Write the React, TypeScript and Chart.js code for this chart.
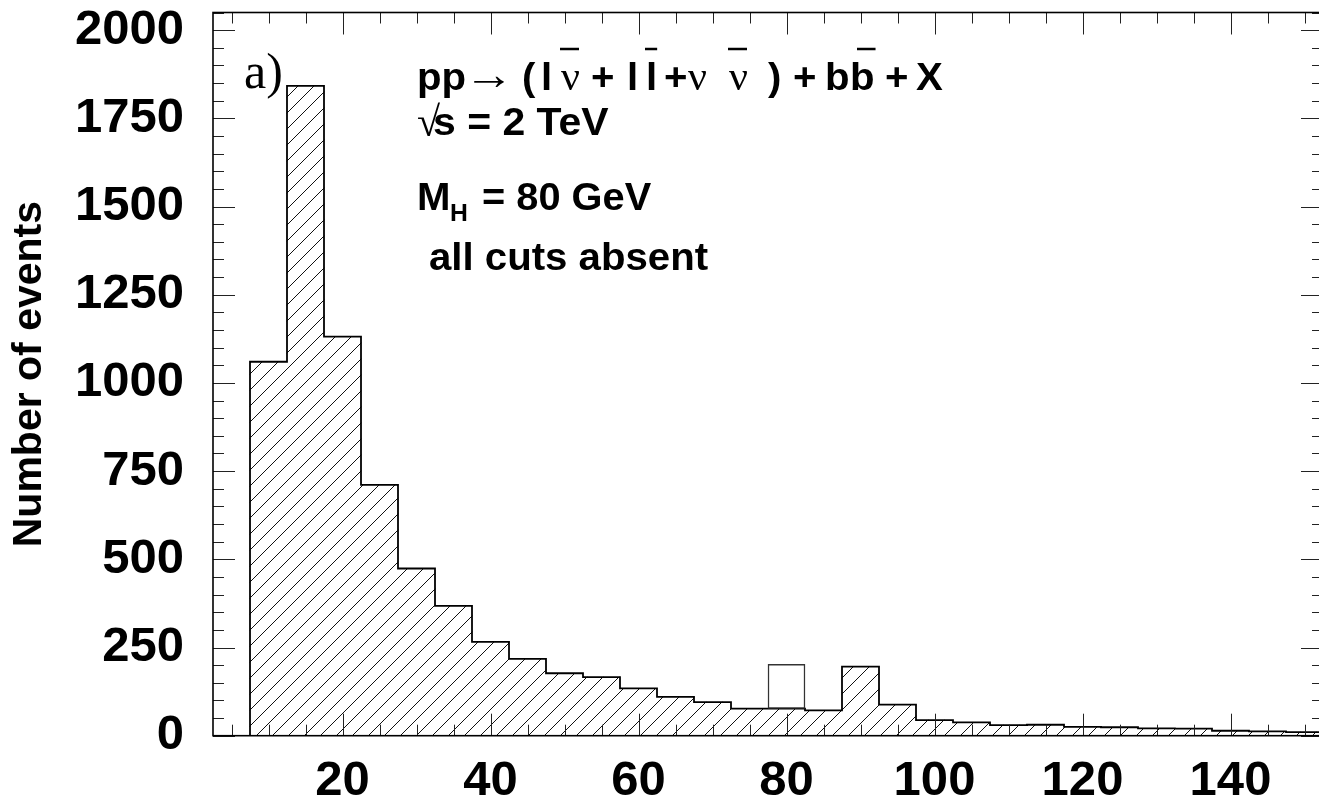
import React, { useEffect, useRef } from "react";
import { Chart, registerables } from "chart.js";

Chart.register(...registerables);

// ---- data ----
const binCenters = [10, 15, 20, 25, 30, 35, 40, 45, 50, 55, 60, 65, 70, 75, 80, 85, 90, 95, 100, 105, 110, 115, 120, 125, 130, 135, 140, 145, 150];
const binWidth = 5;
const background = [1060, 1842, 1131, 711, 474, 368, 266, 218, 177, 166, 134, 110, 95, 77, 77, 72, 196, 88, 44, 38, 30, 31, 25, 24, 21, 20, 14, 12, 10];
const signalBins = [80];
const signalValues = [125];
const xTickValues = [20, 40, 60, 80, 100, 120, 140];
const yTickValues = [0, 250, 500, 750, 1000, 1250, 1500, 1750, 2000];
const xMin = 2.5;
const xMax = 152.5;
const yMin = 0;
const yMax = 2050;
const xMinorStep = 5;
const xMajorStep = 20;
const yMinorStep = 50;
const yMajorStep = 250;

const SANS = '"Liberation Sans", Arial, Helvetica, sans-serif';
const SERIF = '"Liberation Serif", "Times New Roman", "DejaVu Serif", serif';

function makeHatch(): CanvasPattern | string {
  const s = 16;
  const c = document.createElement("canvas");
  c.width = s;
  c.height = s;
  const g = c.getContext("2d");
  if (!g) return "#fff";
  g.fillStyle = "#fff";
  g.fillRect(0, 0, s, s);
  g.strokeStyle = "#111";
  g.lineWidth = 1;
  g.beginPath();
  for (const k of [0, 1, 2]) {
    const d = k * s;
    g.moveTo(-2, d + 2);
    g.lineTo(d + 2, -2);
  }
  g.stroke();
  return g.createPattern(c, "repeat") || "#fff";
}

const framePlugin = {
  id: "frameAndText",
  afterDatasetsDraw(chart: any) {
    const { ctx, chartArea: a, scales } = chart;
    const xs = scales.x;
    const ys = scales.y;
    ctx.save();
    const line = (x1: number, y1: number, x2: number, y2: number) => {
      ctx.beginPath();
      ctx.moveTo(x1, y1);
      ctx.lineTo(x2, y2);
      ctx.stroke();
    };
    // inward ticks on all four sides
    ctx.strokeStyle = "#222";
    ctx.lineWidth = 1;
    for (let v = xMinorStep; v <= xMax; v += xMinorStep) {
      const px = Math.round(xs.getPixelForValue(v)) + 0.5;
      const len = v % xMajorStep === 0 ? 22 : 11;
      line(px, a.bottom, px, a.bottom - len);
      line(px, a.top, px, a.top + len);
    }
    for (let v = yMin; v <= yMax; v += yMinorStep) {
      const py = Math.round(ys.getPixelForValue(v)) + 0.5;
      const len = v % yMajorStep === 0 ? 22 : 11;
      line(a.left, py, a.left + len, py);
      line(a.right, py, a.right - len, py);
    }
    // frame
    ctx.strokeStyle = "#000";
    ctx.lineWidth = 1.6;
    ctx.strokeRect(a.left, a.top, a.right - a.left, a.bottom - a.top);

    // annotations
    ctx.fillStyle = "#000";
    ctx.textAlign = "left";
    ctx.textBaseline = "alphabetic";
    const SX = 1.03;
    const B = `bold 39px ${SANS}`;
    const S = `42px ${SERIF}`;
    const put = (t: string, x: number, y: number, font: string, sx: number = SX) => {
      ctx.font = font;
      ctx.save();
      ctx.translate(x, y);
      ctx.scale(sx, 1);
      ctx.fillText(t, 0, 0);
      ctx.restore();
      return ctx.measureText(t).width * sx;
    };
    const bar = (x: number, w: number, y: number) => {
      ctx.save();
      ctx.lineWidth = 2.5;
      ctx.strokeStyle = "#000";
      line(x, y, x + w, y);
      ctx.restore();
    };

    // a)
    put("a)", 244, 88, `50px ${SERIF}`, 1);

    // line 1
    const y1 = 90;
    const barY = 49;
    put("pp", 417, y1, B);
    ctx.font = `44px ${SERIF}`;
    const aw = ctx.measureText("\u2192").width;
    put("\u2192", 464, y1 - 1, `44px ${SERIF}`, 50 / aw);
    put("(", 522, y1, B);
    put("l", 541, y1, B);
    let w = put("\u03bd", 561, y1, S, 1);
    bar(560, w, barY);
    put("+", 591, y1, B);
    put("l", 627, y1, B);
    w = put("l", 646, y1, B);
    bar(645, w + 1, barY);
    put("+", 664, y1, B);
    put("\u03bd", 688, y1, S, 1);
    w = put("\u03bd", 729, y1, S, 1);
    bar(728, w, barY);
    put(")", 768, y1, B);
    put("+", 793, y1, B);
    put("b", 825, y1, B);
    w = put("b", 850, y1, B);
    bar(857, w - 6, barY);
    put("+", 885, y1, B);
    put("X", 916, y1, B);

    // line 2
    put("\u221a", 417, 136, `42px ${SERIF}`, 1);
    put("s = 2 TeV", 433, 135, B, 1.05);

    // line 3
    put("M", 417, 210, B);
    put("H", 450, 221, `bold 24px ${SANS}`);
    put("= 80 GeV", 482, 210, B, 1.02);

    // line 4
    put("all cuts absent", 429, 270, B, 1.03);

    ctx.restore();
  },
};

export default function App() {
  const ref = useRef<HTMLCanvasElement | null>(null);

  useEffect(() => {
    if (!ref.current) return;
    const hatch = makeHatch();

    const bgData = binCenters.map((c, i) => ({ x: c, y: background[i] }));
    const sigData = signalBins.map((c, i) => {
      const b = background[binCenters.indexOf(c)];
      return { x: c, y: [b, b + signalValues[i]] };
    });
    const outline = [
      { x: binCenters[0] - binWidth / 2, y: 0 },
      ...binCenters.map((c, i) => ({ x: c - binWidth / 2, y: background[i] })),
      { x: binCenters[binCenters.length - 1] + binWidth / 2, y: background[background.length - 1] },
    ];

    const tickFont = { family: SANS, size: 49, weight: "bold" as const };

    const chart = new Chart(ref.current, {
      type: "bar",
      data: {
        datasets: [
          {
            type: "bar",
            data: sigData as any,
            backgroundColor: "#fff",
            borderColor: "#333",
            borderWidth: 1.5,
            borderSkipped: false,
            grouped: false,
            barPercentage: 1,
            categoryPercentage: 1,
            clip: 0,
          } as any,
          {
            type: "line",
            data: outline as any,
            borderColor: "#000",
            borderWidth: 1.8,
            pointRadius: 0,
            fill: false,
            tension: 0,
            stepped: "before",
          } as any,
          {
            type: "bar",
            data: bgData as any,
            backgroundColor: hatch as any,
            borderWidth: 0,
            grouped: false,
            barPercentage: 1,
            categoryPercentage: 1,
            clip: 0,
          } as any,
        ],
      },
      options: {
        animation: false,
        responsive: true,
        maintainAspectRatio: false,
        layout: { padding: { top: 12.5, right: 7, left: 0, bottom: 0 } },
        plugins: {
          legend: { display: false },
          tooltip: { enabled: false },
          title: { display: false },
        },
        scales: {
          x: {
            type: "linear",
            min: xMin,
            max: xMax,
            offset: false,
            grid: { display: false, drawTicks: false },
            border: { display: false },
            afterBuildTicks: (s: any) => {
              s.ticks = xTickValues.map((v) => ({ value: v }));
            },
            afterFit: (s: any) => {
              s.height = 73.3;
              s.paddingLeft = 0;
              s.paddingRight = 0;
              s.paddingTop = 0;
              s.paddingBottom = 0;
            },
            ticks: {
              font: tickFont,
              color: "#000",
              padding: 16,
              maxRotation: 0,
              autoSkip: false,
              callback: (v: any) => String(v),
            },
          },
          y: {
            type: "linear",
            min: yMin,
            max: yMax,
            grid: { display: false, drawTicks: false },
            border: { display: false },
            afterBuildTicks: (s: any) => {
              s.ticks = yTickValues.map((v) => ({ value: v }));
            },
            afterFit: (s: any) => {
              s.width = 213;
              s.paddingLeft = 0;
              s.paddingRight = 0;
              s.paddingTop = 0;
              s.paddingBottom = 0;
            },
            title: {
              display: true,
              text: "Number of events",
              font: { family: SANS, size: 41, weight: "bold" },
              color: "#000",
              padding: { top: 5, bottom: 0 },
            },
            ticks: {
              font: tickFont,
              color: "#000",
              padding: 29,
              autoSkip: false,
              callback: (v: any) => String(v),
            },
          },
        },
      } as any,
      plugins: [framePlugin],
    });

    return () => chart.destroy();
  }, []);

  return (
    <div
      style={{
        position: "fixed",
        left: 0,
        top: 0,
        width: 1319,
        height: 809,
        overflow: "hidden",
        background: "#fff",
      }}
    >
      <div style={{ position: "relative", width: 1330, height: 809 }}>
        <canvas ref={ref} />
      </div>
    </div>
  );
}
